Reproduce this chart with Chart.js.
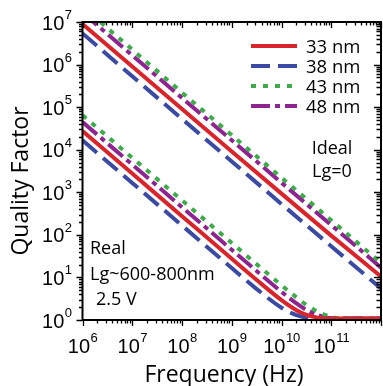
<!DOCTYPE html>
<html>
<head>
<meta charset="utf-8">
<script src="https://cdn.jsdelivr.net/npm/chart.js@4.4.1/dist/chart.umd.min.js"></script>
<style>
  html, body { margin: 0; padding: 0; background: #fff; }
  #wrap { width: 383px; height: 386px; position: relative; }
</style>
</head>
<body>
<div id="wrap"><canvas id="c" width="383" height="386"></canvas></div>
<script>
// ---- data ----
const seriesLabels = ['33 nm', '38 nm', '43 nm', '48 nm'];
const xTickExponents = [6, 7, 8, 9, 10, 11];
const yTickExponents = [0, 1, 2, 3, 4, 5, 6, 7];

// Ideal (Lg = 0)
const freqIdeal = [1e6, 1e7, 1e8, 1e9, 1e10, 1e11, 1e12];
const qIdeal33 = [9.0e6, 9.0e5, 9.0e4, 9.1e3, 9.3e2, 9.6e1, 10.5];
const qIdeal38 = [5.4e6, 5.3e5, 5.3e4, 5.3e3, 5.3e2, 5.4e1, 5.5];
const qIdeal43 = [2.3e7, 2.25e6, 2.2e5, 2.2e4, 2.2e3, 2.2e2, 22];
const qIdeal48 = [1.65e7, 1.65e6, 1.65e5, 1.66e4, 1.68e3, 1.7e2, 17];

// Real (Lg ~ 600-800 nm, 2.5 V)
const freqReal = [1e6, 1e7, 1e8, 1e9, 3e9, 1e10, 2e10, 3e10, 5e10, 7e10, 1e11, 2e11, 1e12];
const qReal33 = [2.75e4, 2750, 275, 27.5, 9.2, 2.93, 1.70, 1.36, 1.15, 1.09, 1.08, 1.08, 1.08];
const qReal38 = [1.66e4, 1660, 166, 16.6, 5.62, 1.94, 1.30, 1.15, 1.09, 1.08, 1.08, 1.08, 1.08];
const qReal43 = [6.46e4, 6460, 646, 64.6, 21.5, 6.54, 3.38, 2.37, 1.63, 1.36, 1.19, 1.08, 1.08];
const qReal48 = [4.47e4, 4470, 447, 44.7, 14.9, 4.58, 2.45, 1.79, 1.34, 1.19, 1.10, 1.08, 1.08];

// ---- styles ----
const colors = ['#d9242b', '#3b4aa2', '#3faa4b', '#8e2490'];
const dashes = [[], [19, 8], [5, 7], [19, 5, 5, 5]];

function pts(xs, ys) { return xs.map((x, i) => ({ x: x, y: ys[i] })); }

const idealQ = [qIdeal33, qIdeal38, qIdeal43, qIdeal48];
const realQ = [qReal33, qReal38, qReal43, qReal48];

const datasets = [];
for (let i = 0; i < 4; i++) {
  datasets.push({
    label: seriesLabels[i], data: pts(freqIdeal, idealQ[i]),
    borderColor: colors[i], borderDash: dashes[i], borderWidth: 4,
    borderCapStyle: 'butt', pointRadius: 0, fill: false, clip: 0, tension: 0
  });
}
for (let i = 0; i < 4; i++) {
  datasets.push({
    label: seriesLabels[i] + ' real', data: pts(freqReal, realQ[i]),
    borderColor: colors[i], borderDash: dashes[i], borderWidth: 4,
    borderCapStyle: 'butt', pointRadius: 0, fill: false,
    clip: { left: 0, top: 0, right: 0, bottom: 4 },
    cubicInterpolationMode: 'monotone'
  });
}

const TICK_FONT = '"Liberation Sans", Arial, sans-serif';
const TEXT_FONT = '"Open Sans", "Noto Sans", sans-serif';

const decorPlugin = {
  id: 'decor',
  afterDatasetsDraw(chart) {
    const ctx = chart.ctx;
    const { left, right, top, bottom } = chart.chartArea;
    const xs = chart.scales.x, ys = chart.scales.y;
    ctx.save();
    ctx.strokeStyle = '#000';
    ctx.fillStyle = '#000';
    ctx.lineWidth = 1.3;
    // x ticks (bottom outside, top inside)
    for (let d = 6; d <= 12; d++) {
      for (let m = 1; m <= 9; m++) {
        const v = m * Math.pow(10, d);
        if (v > xs.max * 1.0001) break;
        const px = Math.round(xs.getPixelForValue(v)) + 0.5;
        const len = m === 1 ? 6 : 3.5;
        ctx.beginPath();
        ctx.moveTo(px, bottom); ctx.lineTo(px, bottom + len);
        ctx.moveTo(px, top); ctx.lineTo(px, top + len);
        ctx.stroke();
      }
    }
    // y ticks (left outside, right inside)
    for (let d = 0; d <= 7; d++) {
      for (let m = 1; m <= 9; m++) {
        const v = m * Math.pow(10, d);
        if (v > ys.max * 1.0001) break;
        const py = Math.round(ys.getPixelForValue(v)) + 0.5;
        const len = m === 1 ? 6 : 3.5;
        ctx.beginPath();
        ctx.moveTo(left - len, py); ctx.lineTo(left, py);
        ctx.moveTo(right - len - 1, py); ctx.lineTo(right, py);
        ctx.stroke();
      }
    }
    // frame
    ctx.lineWidth = 2;
    ctx.strokeRect(left, top, right - left, bottom - top);

    // x tick labels
    ctx.textBaseline = 'alphabetic';
    xTickExponents.forEach(e => {
      const px = xs.getPixelForValue(Math.pow(10, e));
      ctx.font = '20px ' + TICK_FONT;
      const w1 = ctx.measureText('10').width;
      ctx.font = '13px ' + TICK_FONT;
      const w2 = ctx.measureText(String(e)).width;
      const x0 = px - (w1 + w2) / 2;
      ctx.font = '20px ' + TICK_FONT;
      ctx.textAlign = 'left';
      ctx.fillText('10', x0, bottom + 33);
      ctx.font = '13px ' + TICK_FONT;
      ctx.fillText(String(e), x0 + w1 + 0.5, bottom + 22);
    });
    // y tick labels
    yTickExponents.forEach(e => {
      const py = ys.getPixelForValue(Math.pow(10, e));
      ctx.font = '13px ' + TICK_FONT;
      const w2 = ctx.measureText(String(e)).width;
      const xr = left - 10.5;
      ctx.textAlign = 'left';
      ctx.fillText(String(e), xr - w2, py - 3);
      ctx.font = '20px ' + TICK_FONT;
      ctx.textAlign = 'right';
      ctx.fillText('10', xr - w2 - 0.5, py + 7.5);
    });

    // axis titles
    ctx.font = '23px ' + TEXT_FONT;
    ctx.textAlign = 'center';
    ctx.fillText('Frequency (Hz)', 224, 382);
    ctx.save();
    ctx.translate(28, 181);
    ctx.rotate(-Math.PI / 2);
    ctx.fillText('Quality Factor', 0, 0);
    ctx.restore();

    // legend
    const rowY = [46, 66, 86, 106];
    for (let i = 0; i < 4; i++) {
      const ds = chart.data.datasets[i];
      ctx.save();
      ctx.strokeStyle = ds.borderColor;
      ctx.lineWidth = 4;
      ctx.lineCap = 'butt';
      ctx.setLineDash(ds.borderDash || []);
      ctx.beginPath();
      ctx.moveTo(251, rowY[i]); ctx.lineTo(297, rowY[i]);
      ctx.stroke();
      ctx.restore();
      ctx.font = '18.5px ' + TEXT_FONT;
      ctx.textAlign = 'left';
      ctx.fillText(ds.label, 306, rowY[i] + 6.5);
    }

    // annotations
    ctx.font = '18px ' + TEXT_FONT;
    ctx.textAlign = 'center';
    ctx.fillText('Ideal', 332, 154);
    ctx.fillText('Lg=0', 332, 177);
    ctx.textAlign = 'left';
    ctx.fillText('Real', 90, 254);
    ctx.fillText('Lg~600-800nm', 90, 280);
    ctx.fillText('2.5 V', 96, 305);
    ctx.restore();
  }
};

new Chart(document.getElementById('c'), {
  type: 'line',
  data: { datasets: datasets },
  options: {
    responsive: false,
    animation: false,
    devicePixelRatio: 1,
    layout: { padding: { left: 82.5, right: 2, top: 22, bottom: 66 } },
    plugins: { legend: { display: false }, tooltip: { enabled: false } },
    scales: {
      x: { type: 'logarithmic', min: 1e6, max: 1e12, display: false },
      y: { type: 'logarithmic', min: 1, max: 1e7, display: false }
    }
  },
  plugins: [decorPlugin]
});
</script>
</body>
</html>
